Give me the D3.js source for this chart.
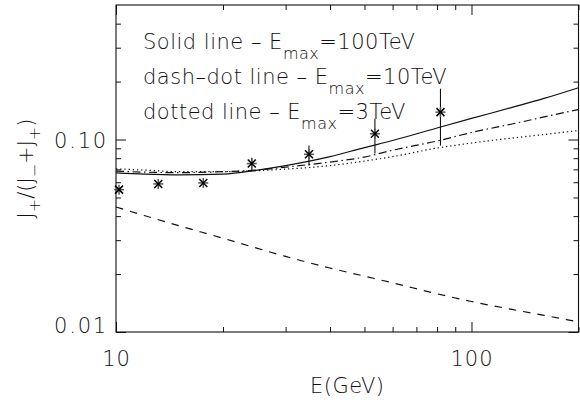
<!DOCTYPE html>
<html><head><meta charset="utf-8">
<script src="https://cdn.jsdelivr.net/npm/d3@7"></script>
<style>
html,body{margin:0;padding:0;background:#fff;}
text{font-family:"DejaVu Sans","Liberation Sans",sans-serif;font-weight:200;fill:#111;}
</style></head>
<body>
<svg id="chart" width="580" height="402"></svg>
<script>
// ---- data ----
const energyGrid = [10, 12, 15, 20, 25, 30, 40, 50, 60, 80, 100, 130, 160, 200];
const solidLine   = [0.0671, 0.0661, 0.0655, 0.0661, 0.0694, 0.0732, 0.0815, 0.0908, 0.0988, 0.1148, 0.1287, 0.1468, 0.1635, 0.1859];
const dashDotLine = [0.0686, 0.0677, 0.0673, 0.0681, 0.0694, 0.0719, 0.0764, 0.0811, 0.0880, 0.0982, 0.1088, 0.1204, 0.1310, 0.1433];
const dottedLine  = [0.0704, 0.0694, 0.0681, 0.0681, 0.0689, 0.0702, 0.0732, 0.0773, 0.0815, 0.0903, 0.0959, 0.1018, 0.1062, 0.1114];
const dashedLine  = [0.0446, 0.0403, 0.0357, 0.0307, 0.0272, 0.0247, 0.0215, 0.0195, 0.0180, 0.0158, 0.0144, 0.0131, 0.0122, 0.0113];

const dataE   = [10.2, 13.15, 17.6, 24.1, 34.9, 53.5, 81.8];
const dataR   = [0.0549, 0.0588, 0.0595, 0.0750, 0.0838, 0.1071, 0.1388];
const dataLo  = [0.0549, 0.0588, 0.0595, 0.0684, 0.0732, 0.0846, 0.0930];
const dataHi  = [0.0549, 0.0588, 0.0595, 0.0803, 0.0930, 0.1282, 0.1837];

const xMajor = [10, 100];
const xMinor = [20, 30, 40, 50, 60, 70, 80, 90, 200];
const yMajor = [0.01, 0.1];
const yMinor = [0.02, 0.03, 0.04, 0.05, 0.06, 0.07, 0.08, 0.09, 0.2, 0.3, 0.4];
const xTickLabels = ["10", "100"];
const yTickLabels = ["0.01", "0.10"];

const legendItems = [
  {pre: "Solid line \u2013 E", sub: "max", post: "=100TeV"},
  {pre: "dash\u2013dot line \u2013 E", sub: "max", post: "=10TeV"},
  {pre: "dotted line \u2013 E", sub: "max", post: "=3TeV"}
];

// ---- layout ----
const L = 116, R = 578.5, T = 5, B = 332;
const svg = d3.select("#chart");
const x = d3.scaleLog().domain([10, 200]).range([L, R]);
const y = d3.scaleLog().domain([0.01, 0.5]).range([B, T]);
const fs = 21, subFs = 16;

// frame
svg.append("rect").attr("x", L).attr("y", T).attr("width", R - L).attr("height", B - T)
  .attr("fill", "none").attr("stroke", "#111").attr("stroke-width", 1.1);

function styleAxis(g){ g.select(".domain").remove(); g.selectAll("line").attr("stroke", "#111"); g.selectAll("text").attr("font-size", fs).attr("font-family", null); }

// bottom
svg.append("g").attr("transform", `translate(0,${B})`)
  .call(d3.axisBottom(x).tickValues(xMajor).tickSizeInner(-10).tickSizeOuter(0).tickPadding(19)
        .tickFormat((d, i) => xTickLabels[i])).call(styleAxis)
  .selectAll("text").attr("letter-spacing", 1);
svg.append("g").attr("transform", `translate(0,${B})`)
  .call(d3.axisBottom(x).tickValues(xMinor).tickSizeInner(-5).tickSizeOuter(0).tickFormat("")).call(styleAxis);
// top
svg.append("g").attr("transform", `translate(0,${T})`)
  .call(d3.axisTop(x).tickValues(xMajor).tickSizeInner(-10).tickSizeOuter(0).tickFormat("")).call(styleAxis);
svg.append("g").attr("transform", `translate(0,${T})`)
  .call(d3.axisTop(x).tickValues(xMinor).tickSizeInner(-5).tickSizeOuter(0).tickFormat("")).call(styleAxis);
// left
const gl = svg.append("g").attr("transform", `translate(${L},0)`)
  .call(d3.axisLeft(y).tickValues(yMajor).tickSizeInner(-10).tickSizeOuter(0).tickPadding(8)
        .tickFormat((d, i) => yTickLabels[i])).call(styleAxis);
gl.selectAll("text").attr("letter-spacing", 1.8)
  .attr("dy", d => (y(d) + 0.36 * fs > B) ? (B - y(d)) + "px" : "0.36em");
svg.append("g").attr("transform", `translate(${L},0)`)
  .call(d3.axisLeft(y).tickValues(yMinor).tickSizeInner(-5).tickSizeOuter(0).tickFormat("")).call(styleAxis);
// right
svg.append("g").attr("transform", `translate(${R},0)`)
  .call(d3.axisRight(y).tickValues(yMajor).tickSizeInner(-10).tickSizeOuter(0).tickFormat("")).call(styleAxis);
svg.append("g").attr("transform", `translate(${R},0)`)
  .call(d3.axisRight(y).tickValues(yMinor).tickSizeInner(-5).tickSizeOuter(0).tickFormat("")).call(styleAxis);

// axis titles
svg.append("text").attr("x", (L + R) / 2).attr("y", 393).attr("text-anchor", "middle")
  .attr("font-size", fs).attr("letter-spacing", 0.5).text("E(GeV)");

const yt = svg.append("text").attr("transform", `translate(33,${(T + B) / 2}) rotate(-90)`)
  .attr("text-anchor", "middle").attr("font-size", fs);
const ytParts = [["J", 0, fs], ["+", 7, subFs], ["/(J", -7, fs], ["\u2212", 7, subFs], ["+J", -7, fs], ["+", 7, subFs], [")", -7, fs]];
ytParts.forEach(p => yt.append("tspan").attr("dy", p[1]).attr("font-size", p[2]).text(p[0]));

// curves
const plot = svg.append("g");
const line = d3.line().x(d => x(d[0])).y(d => y(d[1])).curve(d3.curveMonotoneX);
const curves = [
  {vals: solidLine, dash: null},
  {vals: dashDotLine, dash: "8,3.5,1.5,3.5"},
  {vals: dottedLine, dash: "1.3,2.9"},
  {vals: dashedLine, dash: "7.5,7"}
];
curves.forEach(c => {
  plot.append("path").datum(energyGrid.map((e, i) => [e, c.vals[i]]))
    .attr("d", line).attr("fill", "none").attr("stroke", "#111").attr("stroke-width", 1.2)
    .attr("stroke-dasharray", c.dash);
});

// error bars
dataE.forEach((e, i) => {
  plot.append("line").attr("x1", x(e)).attr("x2", x(e)).attr("y1", y(dataLo[i])).attr("y2", y(dataHi[i]))
    .attr("stroke", "#111").attr("stroke-width", 1.1);
});
// asterisk markers
const arm = 5;
dataE.forEach((e, i) => {
  const g = plot.append("g").attr("transform", `translate(${x(e)},${y(dataR[i])})`);
  [[0, -arm, 0, arm], [-arm, 0, arm, 0], [-arm * 0.8, -arm * 0.8, arm * 0.8, arm * 0.8], [-arm * 0.8, arm * 0.8, arm * 0.8, -arm * 0.8]]
    .forEach((s, k) => g.append("line").attr("x1", s[0]).attr("y1", s[1]).attr("x2", s[2]).attr("y2", s[3])
      .attr("stroke", k < 2 ? "#555" : "#000").attr("stroke-width", 1.5));
});

// legend text
legendItems.forEach((it, i) => {
  const t = svg.append("text").attr("x", 143).attr("y", 48.5 + i * 35).attr("font-size", fs).attr("letter-spacing", 0.5);
  t.append("tspan").text(it.pre);
  t.append("tspan").attr("dy", 10).attr("font-size", subFs).text(it.sub);
  t.append("tspan").attr("dy", -10).text(it.post);
});
</script>
</body></html>
